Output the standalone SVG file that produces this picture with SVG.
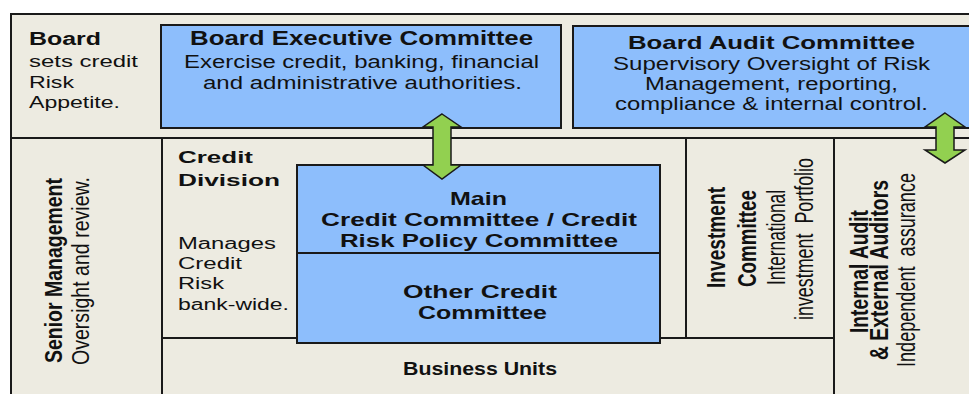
<svg xmlns="http://www.w3.org/2000/svg" width="969" height="394" viewBox="0 0 969 394">
<style>
.band{fill:#EDEBE1;stroke:#1a1a1a;stroke-width:2}
.box{fill:#8DBEFC;stroke:#1a1a1a;stroke-width:2}
.ln{stroke:#1a1a1a;stroke-width:2;fill:none}
.arr{fill:#92D050;stroke:#1a1a1a;stroke-width:1.5;stroke-linejoin:miter}
text{font-family:"Liberation Sans",Arial,sans-serif;fill:#111}
.b{font-weight:bold}
</style>
<rect x="0" y="0" width="969" height="394" fill="#ffffff"/>
<g id="board-band">
<rect class="band" x="11" y="14" width="970" height="124"/>
<text class="b" x="29" y="45" font-size="18" textLength="72" lengthAdjust="spacingAndGlyphs">Board</text>
<text x="29" y="67" font-size="17" textLength="109" lengthAdjust="spacingAndGlyphs">sets credit</text>
<text x="29" y="88" font-size="17" textLength="45" lengthAdjust="spacingAndGlyphs">Risk</text>
<text x="29" y="108" font-size="17" textLength="91" lengthAdjust="spacingAndGlyphs">Appetite.</text>
</g>
<g id="lower-frame">
<rect class="band" x="11" y="138" width="970" height="270"/>
<line class="ln" x1="162" y1="138" x2="162" y2="394"/>
<line class="ln" x1="162" y1="338" x2="834" y2="338"/>
<line class="ln" x1="686" y1="138" x2="686" y2="338"/>
<line class="ln" x1="834" y1="138" x2="834" y2="394"/>
</g>
<g id="bec">
<rect class="box" x="161" y="25" width="400" height="103"/>
<text class="b" x="190" y="45" font-size="19.5" textLength="343" lengthAdjust="spacingAndGlyphs">Board Executive Committee</text>
<text x="184" y="68" font-size="17.5" textLength="355" lengthAdjust="spacingAndGlyphs">Exercise credit, banking, financial</text>
<text x="203" y="89" font-size="17.5" textLength="319" lengthAdjust="spacingAndGlyphs">and administrative authorities.</text>
</g>
<g id="bac">
<rect class="box" x="573" y="26" width="410" height="102"/>
<text class="b" x="628" y="49" font-size="18.5" textLength="287" lengthAdjust="spacingAndGlyphs">Board Audit Committee</text>
<text x="613" y="70" font-size="17.5" textLength="317" lengthAdjust="spacingAndGlyphs">Supervisory Oversight of Risk</text>
<text x="645" y="90" font-size="17.5" textLength="253" lengthAdjust="spacingAndGlyphs">Management, reporting,</text>
<text x="615" y="110" font-size="17.5" textLength="313" lengthAdjust="spacingAndGlyphs">compliance &amp; internal control.</text>
</g>
<g id="senior-management">
<text class="b" transform="translate(62,363) rotate(-90)" font-size="23" textLength="185" lengthAdjust="spacingAndGlyphs">Senior Management</text>
<text transform="translate(89,365) rotate(-90)" font-size="23" textLength="188" lengthAdjust="spacingAndGlyphs">Oversight and review.</text>
</g>
<g id="credit-division">
<text class="b" x="178" y="163" font-size="17" textLength="75" lengthAdjust="spacingAndGlyphs">Credit</text>
<text class="b" x="178" y="186" font-size="17" textLength="102" lengthAdjust="spacingAndGlyphs">Division</text>
<text x="178" y="249" font-size="16" textLength="98" lengthAdjust="spacingAndGlyphs">Manages</text>
<text x="178" y="269" font-size="16" textLength="64" lengthAdjust="spacingAndGlyphs">Credit</text>
<text x="178" y="289" font-size="16" textLength="46" lengthAdjust="spacingAndGlyphs">Risk</text>
<text x="178" y="310" font-size="16" textLength="111" lengthAdjust="spacingAndGlyphs">bank-wide.</text>
</g>
<g id="main-credit-committee">
<rect class="box" x="297" y="165" width="363" height="88"/>
<text class="b" x="450" y="205" font-size="19" textLength="57" lengthAdjust="spacingAndGlyphs">Main</text>
<text class="b" x="321" y="226" font-size="19" textLength="316" lengthAdjust="spacingAndGlyphs">Credit Committee / Credit</text>
<text class="b" x="340" y="247" font-size="19" textLength="278" lengthAdjust="spacingAndGlyphs">Risk Policy Committee</text>
</g>
<g id="other-credit-committee">
<rect class="box" x="297" y="253" width="363" height="90"/>
<text class="b" x="403" y="298" font-size="19" textLength="154" lengthAdjust="spacingAndGlyphs">Other Credit</text>
<text class="b" x="418" y="319" font-size="19" textLength="129" lengthAdjust="spacingAndGlyphs">Committee</text>
</g>
<g id="business-units">
<text class="b" x="403" y="375" font-size="17.5" textLength="154" lengthAdjust="spacingAndGlyphs">Business Units</text>
</g>
<g id="investment-committee">
<text class="b" transform="translate(725,288) rotate(-90)" font-size="25" textLength="101" lengthAdjust="spacingAndGlyphs">Investment</text>
<text class="b" transform="translate(756,287) rotate(-90)" font-size="25" textLength="97" lengthAdjust="spacingAndGlyphs">Committee</text>
<text transform="translate(785,285) rotate(-90)" font-size="25" textLength="95" lengthAdjust="spacingAndGlyphs">International</text>
<text transform="translate(813,320) rotate(-90)" font-size="25" textLength="162" lengthAdjust="spacingAndGlyphs" xml:space="preserve">investment  Portfolio</text>
</g>
<g id="internal-audit">
<text class="b" transform="translate(868,333) rotate(-90)" font-size="25" textLength="123" lengthAdjust="spacingAndGlyphs">Internal Audit</text>
<text class="b" transform="translate(888,360) rotate(-90)" font-size="25" textLength="180" lengthAdjust="spacingAndGlyphs">&amp; External Auditors</text>
<text transform="translate(915,367) rotate(-90)" font-size="25" textLength="194" lengthAdjust="spacingAndGlyphs" xml:space="preserve">Independent  assurance</text>
</g>
<g id="connectors">
<polygon class="arr" points="442,114 461,127 451,127 451,165 461,165 442,179 423,165 433,165 433,127 423,127"/>
<polygon class="arr" points="945,113 965,127 954,127 954,150 965,150 945,163 925,150 936,150 936,127 925,127"/>
</g>
</svg>
